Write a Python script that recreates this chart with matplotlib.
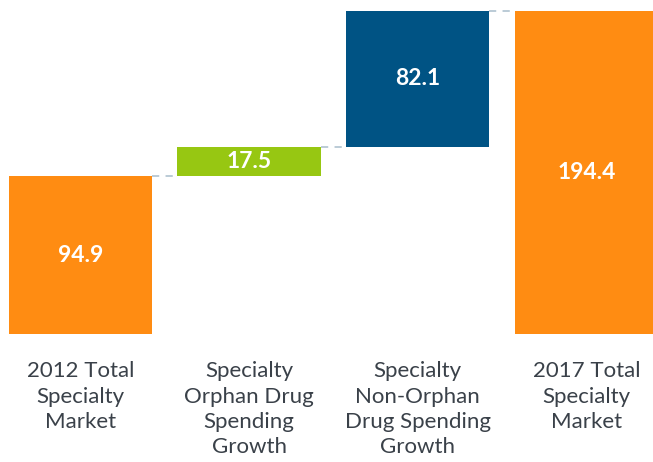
import numpy as np
import matplotlib.pyplot as plt

# data
categories = ['2012 Total\nSpecialty\nMarket',
              'Specialty\nOrphan Drug\nSpending\nGrowth',
              'Specialty\nNon-Orphan\nDrug Spending\nGrowth',
              '2017 Total\nSpecialty\nMarket']
values = [94.9, 17.5, 82.1, 194.4]
is_total = [True, False, False, True]
colors = ['#FF8C12', '#97C712', '#005384', '#FF8C12']

# waterfall bottoms
bottoms = []
running = 0
for v, t in zip(values, is_total):
    if t:
        bottoms.append(0)
        running = v
    else:
        bottoms.append(running)
        running += v
tops = [b + v for b, v in zip(bottoms, values)]

fig = plt.figure(figsize=(6.53, 4.62), dpi=100)
ax = fig.add_axes([0, 128/462, 1, 334/462])
x = np.arange(len(values))
width = 0.85
ax.bar(x, values, bottom=bottoms, width=width, color=colors, zorder=2)

# connectors
for i in range(len(values) - 1):
    ax.plot([x[i] + width/2, x[i+1] - width/2], [tops[i], tops[i]],
            color='#B5C7D3', lw=1.3, dashes=(4, 3.5), zorder=1)

# value labels
for xi, b, v in zip(x, bottoms, values):
    ax.text(xi, b + v/2, f'{v:.1f}', ha='center', va='center', color='white',
            fontsize=16.5, fontweight='bold', family='Lato')

# category labels
for xi, lab in zip(x, categories):
    ax.text(xi, -16.5, lab, ha='center', va='top', color='#3A4149',
            fontsize=16, family='Lato', linespacing=1.33)

ax.set_xlim(-80.5/168.6, -80.5/168.6 + 653/168.6)
ax.set_ylim(0, 334/1.663)
ax.axis('off')

fig.savefig('out.png', dpi=100)
